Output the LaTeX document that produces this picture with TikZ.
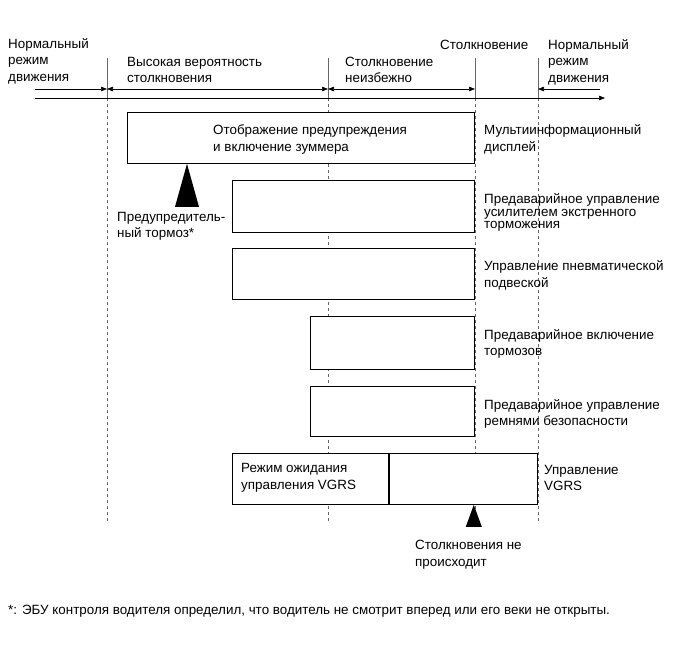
\documentclass[tikz,border=0pt]{standalone}
\usepackage{fontspec}
\setmainfont{Liberation Sans}
\usetikzlibrary{positioning, arrows.meta, calc}

\begin{document}
\begin{tikzpicture}[
        x=1pt, y=-1pt,
        txt/.style={anchor=west, align=left, inner sep=0pt,
            font=\fontsize{13.4}{16.5}\selectfont},
        tighttxt/.style={txt, font=\fontsize{13.4}{12.5}\selectfont},
        bar/.style={draw, fill=white, line width=0.8pt, anchor=north west,
            inner sep=0pt, minimum width=#1},
        vline/.style={draw=black!60, line width=0.7pt},
        tl/.style={line width=0.6pt},
        arr/.style={tl, -{Triangle[length=6pt, width=4.5pt]}},
        darr/.style={tl, {Triangle[length=6pt, width=4.5pt]}-{Triangle[length=6pt, width=4.5pt]}},
    ]
    \useasboundingbox (0,0) rectangle (689,659);

    % =============================================
    % TIMELINE
    % =============================================
    \foreach \x/\n in {107/a, 328/b, 475/c, 538/d} {
        \coordinate (top\n) at (\x, 58);
        \coordinate (up\n)  at (\x, 89);
        \coordinate (mid\n) at (\x, 98);
        \coordinate (bot\n) at (\x, 523);
        \draw[vline]         (top\n) -- (mid\n);
        \draw[vline, dashed] (mid\n) -- (bot\n);
    }
    \coordinate (ustart) at (35, 89);
    \coordinate (uend)   at (600, 89);
    \coordinate (lstart) at (35, 98);
    \coordinate (lend)   at (605, 98);

    \draw[arr]  (ustart) -- (upa);
    \draw[darr] (upa)    -- (upb);
    \draw[darr] (upb)    -- (upc);
    \draw[arr]  (uend)   -- (upd);
    \draw[arr]  (lstart) -- (lend);

    \node[txt] (norm1) at (8, 61)   {Нормальный\\режим\\движения};
    \node[txt] (high)  at (127, 70) {Высокая вероятность\\столкновения};
    \node[txt] (inev)  at (345, 70) {Столкновение\\неизбежно};
    \node[txt] (coll)  at (440, 45) {Столкновение};
    \node[txt] (norm2) at (548, 62) {Нормальный\\режим\\движения};

    % =============================================
    % BARS
    % =============================================
    \node[bar=347pt, minimum height=51pt] (warn)   at (127, 112) {};
    \node[bar=242pt, minimum height=52pt] (assist) at (232, 180) {};
    \node[bar=242pt, minimum height=51pt] (susp)   at (232, 248) {};
    \node[bar=164pt, minimum height=53pt] (pbrake) at (310, 316) {};
    \node[bar=164pt, minimum height=50pt] (belts)  at (310, 386) {};
    \node[bar=156pt, minimum height=51pt] (vwait)  at (232, 453) {};
    \node[bar=148pt, minimum height=51pt, anchor=west] (vctrl) at (vwait.east) {};

    \node[txt] (warntext)  at (213, 139.5) {Отображение предупреждения\\и включение зуммера};
    \node[txt] (vwaittext) at (241, 478)   {Режим ожидания\\управления VGRS};

    % labels on the right
    \node[txt]      (disp)     at (484, 139.5) {Мультиинформационный\\дисплей};
    \node[tighttxt] (assistlb) at (484, 212.5) {Предаварийное управление\\усилителем экстренного\\торможения};
    \node[txt]      (susplb)   at (484, 275.5) {Управление пневматической\\подвеской};
    \node[txt]      (pbrakelb) at (484, 344)   {Предаварийное включение\\тормозов};
    \node[txt]      (beltslb)  at (484, 414)   {Предаварийное управление\\ремнями безопасности};
    \node[txt]      (vctrllb)  at (544, 478)   {Управление\\VGRS};

    % =============================================
    % MARKERS
    % =============================================
    \coordinate (tip1) at ($(warn.south west)+(60,0)$);
    \fill (tip1) -- ++(12, 43) -- ++(-24, 0) -- cycle;
    \node[txt] (prebrake) at (117, 226.5) {Предупредитель-\\ный тормоз*};

    \coordinate (tip2) at ($(vctrl.south west)+(85,0)$);
    \fill (tip2) -- ++(8, 22) -- ++(-16, 0) -- cycle;
    \node[txt] (nocoll) at (415, 554.5) {Столкновения не\\происходит};

    \node[txt] (note) at (8, 611)
        {*: ЭБУ контроля водителя определил, что водитель не смотрит вперед или его веки не открыты.};
\end{tikzpicture}
\end{document}
